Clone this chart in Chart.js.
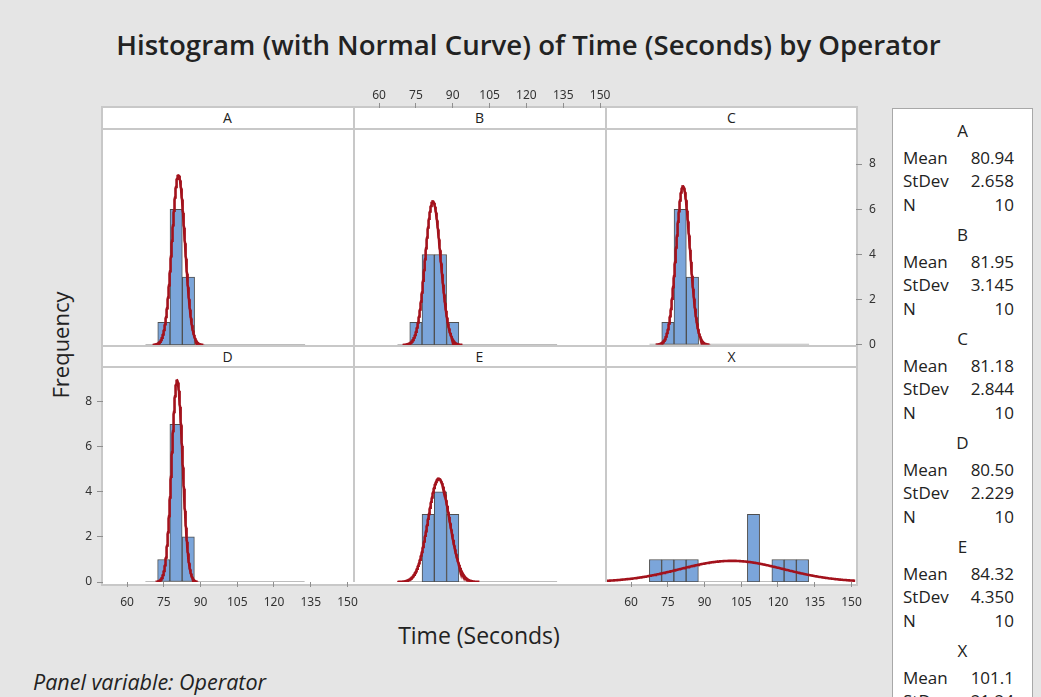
<!DOCTYPE html>
<html>
<head>
<meta charset="utf-8">
<title>Histogram of Time by Operator</title>
<script src="https://cdn.jsdelivr.net/npm/chart.js@4.4.1/dist/chart.umd.min.js"></script>
<style>
  html, body { margin: 0; padding: 0; background: #e5e5e5; }
  body { width: 1041px; height: 697px; position: relative; overflow: hidden;
         font-family: "Open Sans", "Noto Sans", sans-serif; color: #222; }
  .abs { position: absolute; }
  #title { left: 0; width: 1057px; top: 25px; text-align: center; font-size: 27.6px; font-weight: 600; color: #222; }
  #frame { left: 101px; top: 106px; width: 753px; height: 476px; background: #fff; border: 2px solid #c8c8c8; }
  .vline { width: 2px; background: #c8c8c8; }
  .hline { height: 2px; background: #c8c8c8; }
  .strip { text-align: center; font-size: 14px; color: #222; line-height: 20px; }
  canvas { position: absolute; }
  #ylab { left: 60px; top: 345px; transform: translate(-50%, -50%) rotate(-90deg); font-size: 22px; white-space: nowrap; }
  #xlab { left: 479px; top: 635px; transform: translate(-50%, -50%); font-size: 23px; white-space: nowrap; }
  #panelvar { left: 33px; top: 667px; font-size: 21.5px; font-style: italic; white-space: nowrap; }
  #legend { left: 892px; top: 108px; width: 139px; height: 640px; background: #fff; border: 1px solid #a8a8a8; }
  .lg { font-size: 17px; line-height: 22px; white-space: nowrap; color: #222; }
</style>
</head>
<body>
<div id="title" class="abs">Histogram (with Normal Curve) of Time (Seconds) by Operator</div>
<div id="frame" class="abs"></div>
<div id="ylab" class="abs">Frequency</div>
<div id="xlab" class="abs">Time (Seconds)</div>
<div id="panelvar" class="abs">Panel variable: Operator</div>
<div id="legend" class="abs"></div>

<script>
// ---- data ---------------------------------------------------------------
const operators = ['A', 'B', 'C', 'D', 'E', 'X'];
const binCenters = [70, 75, 80, 85, 90, 95, 100, 105, 110, 115, 120, 125, 130];
const countsA = [0, 1, 6, 3, 0, 0, 0, 0, 0, 0, 0, 0, 0];
const countsB = [0, 1, 4, 4, 1, 0, 0, 0, 0, 0, 0, 0, 0];
const countsC = [0, 1, 6, 3, 0, 0, 0, 0, 0, 0, 0, 0, 0];
const countsD = [0, 1, 7, 2, 0, 0, 0, 0, 0, 0, 0, 0, 0];
const countsE = [0, 0, 3, 4, 3, 0, 0, 0, 0, 0, 0, 0, 0];
const countsX = [1, 1, 1, 1, 0, 0, 0, 0, 3, 0, 1, 1, 1];
const means = [80.94, 81.95, 81.18, 80.50, 84.32, 101.1];
const stDevs = [2.658, 3.145, 2.844, 2.229, 4.350, 21.24];
const sampleSizes = [10, 10, 10, 10, 10, 10];
const timeTicks = [60, 75, 90, 105, 120, 135, 150];
const freqTicks = [0, 2, 4, 6, 8];
const TIME_MIN = 50.2, TIME_MAX = 151.6, FREQ_MAX = 9.5;
const CURVE_SPAN_SD = 3.8; // the fitted curve is drawn over mean ± this many SDs

const countsByOperator = [countsA, countsB, countsC, countsD, countsE, countsX];

// ---- layout (pixels) ----------------------------------------------------
const PAD = 14;
const PANEL_W = 249;
const colLeft = [103, 355, 607];
const rowBox = [
  { top: 108, plotTop: 130, bottom: 345 },
  { top: 347, plotTop: 368, bottom: 582 }
];
// which panels carry axes (alternating Minitab style)
const panelAxes = [
  {}, { top: true }, { right: true },
  { left: true, bottom: true }, {}, { bottom: true }
];

const BAR_FILL = '#7ba5da';
const BAR_EDGE = '#4f4f4f';
const CURVE = '#a3121c';
const TICK_COLOR = '#8f8f8f';
const TICK_FONT = { family: '"Noto Sans", "Open Sans", sans-serif', size: 12 };
const TICK_TEXT = '#333';

// frame dividers and strips
function addDiv(cls, css, text) {
  const d = document.createElement('div');
  d.className = 'abs ' + cls;
  Object.assign(d.style, css);
  if (text) d.textContent = text;
  document.body.appendChild(d);
  return d;
}
addDiv('vline', { left: '353px', top: '108px', height: '474px' });
addDiv('vline', { left: '605px', top: '108px', height: '474px' });
addDiv('hline', { left: '103px', top: '345px', width: '753px' });
rowBox.forEach(r => {
  addDiv('hline', { left: '103px', top: (r.plotTop - 2) + 'px', width: '753px' });
});
operators.forEach((op, i) => {
  const col = i % 3, r = rowBox[Math.floor(i / 3)];
  addDiv('strip', { left: colLeft[col] + 'px', top: r.top + 'px', width: PANEL_W + 'px',
                    height: (r.plotTop - 2 - r.top) + 'px' }, op);
});

// statistics box
const legend = document.getElementById('legend');
function lgText(text, css) {
  const d = document.createElement('div');
  d.className = 'abs lg';
  d.textContent = text;
  Object.assign(d.style, css);
  legend.appendChild(d);
}
operators.forEach((op, i) => {
  const y = 130 + 104 * i - 108 - 11; // line tops relative to the box
  lgText(op, { left: '0px', width: '139px', textAlign: 'center', top: y + 'px' });
  const rows = [['Mean', means[i].toPrecision(4)], ['StDev', stDevs[i].toPrecision(4)], ['N', String(sampleSizes[i])]];
  const offs = [27, 50, 74];
  rows.forEach((rw, k) => {
    lgText(rw[0], { left: '10px', top: (y + offs[k]) + 'px' });
    lgText(rw[1], { right: '18px', top: (y + offs[k]) + 'px', textAlign: 'right' });
  });
});

// fitted normal curve, scaled to histogram counts: N * binWidth * pdf(x)
function normalCurve(mean, sd, n, binWidth) {
  const pts = [];
  const k = n * binWidth / (sd * Math.sqrt(2 * Math.PI));
  const lo = Math.max(TIME_MIN, mean - CURVE_SPAN_SD * sd);
  const hi = Math.min(TIME_MAX, mean + CURVE_SPAN_SD * sd);
  const step = (hi - lo) / 300;
  for (let j = 0; j <= 300; j++) {
    const x = lo + j * step;
    const z = (x - mean) / sd;
    pts.push({ x: x, y: k * Math.exp(-0.5 * z * z) });
  }
  return pts;
}

const binWidth = binCenters[1] - binCenters[0];

function makePanel(i) {
  const col = i % 3, r = rowBox[Math.floor(i / 3)];
  const ax = panelAxes[i];
  const h = r.bottom - r.top;
  const plotH = r.bottom - r.plotTop;
  const yMax = FREQ_MAX * h / plotH; // the strip sits over the top of the area
  const L = ax.left ? 45 : 0, R = ax.right ? 35 : 0, T = ax.top ? 30 : 0, B = ax.bottom ? 30 : 0;
  const showX = !!(ax.top || ax.bottom), showY = !!(ax.left || ax.right);

  const canvas = document.createElement('canvas');
  canvas.width = PANEL_W + L + R + 2 * PAD;
  canvas.height = h + T + B + 2 * PAD;
  canvas.style.left = (colLeft[col] - L - PAD) + 'px';
  canvas.style.top = (r.top - T - PAD) + 'px';
  document.body.appendChild(canvas);

  const bars = binCenters.map((c, k) => ({ x: c, y: countsByOperator[i][k] }));
  const emptyBins = [
    { x: binCenters[0] - binWidth / 2, y: 0 },
    { x: binCenters[binCenters.length - 1] + binWidth / 2, y: 0 }
  ];

  new Chart(canvas, {
    data: {
      datasets: [
        { type: 'line', data: normalCurve(means[i], stDevs[i], sampleSizes[i], binWidth),
          borderColor: CURVE, borderWidth: 2.6, pointRadius: 0, tension: 0, order: 0 },
        { type: 'bar', data: bars, backgroundColor: BAR_FILL, borderColor: BAR_EDGE,
          borderWidth: 1, borderSkipped: false, barPercentage: 1, categoryPercentage: 1, order: 1 },
        { type: 'line', data: emptyBins, borderColor: '#bdbdbd', borderWidth: 2,
          pointRadius: 0, order: 2 }
      ]
    },
    options: {
      responsive: false,
      animation: false,
      events: [],
      layout: { padding: PAD },
      plugins: { legend: { display: false }, tooltip: { enabled: false } },
      scales: {
        x: {
          type: 'linear', min: TIME_MIN, max: TIME_MAX, offset: false,
          display: showX,
          position: ax.top ? 'top' : 'bottom',
          afterBuildTicks: s => { s.ticks = timeTicks.map(v => ({ value: v })); },
          afterFit: s => { s.height = showX ? 30 : 0; },
          grid: { offset: false, drawOnChartArea: false, drawTicks: true, tickLength: 5, color: TICK_COLOR },
          border: { display: false },
          ticks: { font: TICK_FONT, color: TICK_TEXT, padding: ax.top ? 0 : 8,
                   maxRotation: 0, autoSkip: false }
        },
        y: {
          type: 'linear', min: 0, max: yMax,
          display: showY,
          position: ax.right ? 'right' : 'left',
          afterBuildTicks: s => { s.ticks = freqTicks.map(v => ({ value: v })); },
          afterFit: s => { s.width = showY ? (ax.right ? 35 : 45) : 0; },
          grid: { drawOnChartArea: false, drawTicks: true, tickLength: 6, color: TICK_COLOR },
          border: { display: false },
          ticks: { font: TICK_FONT, color: TICK_TEXT, padding: ax.right ? 7 : 5 }
        }
      }
    }
  });
}

operators.forEach((op, i) => makePanel(i));
</script>
</body>
</html>
